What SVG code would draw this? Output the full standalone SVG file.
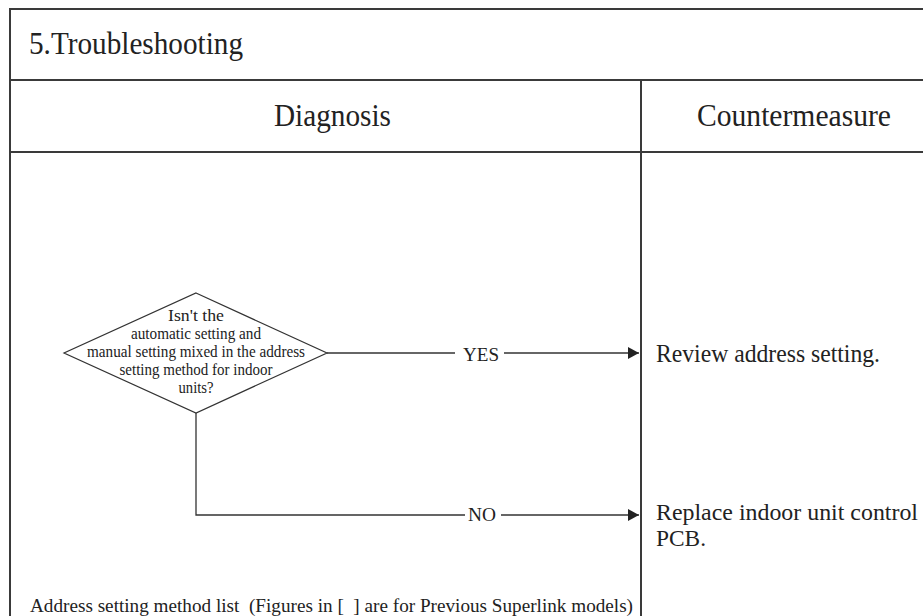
<svg xmlns="http://www.w3.org/2000/svg" width="923" height="616" viewBox="0 0 923 616">
<style>
  .frame { fill: none; stroke: #3a3a3a; stroke-width: 2; }
  .edge { fill: none; stroke: #333; stroke-width: 1.3; }
  .shape { fill: #fff; stroke: #333; stroke-width: 1.2; }
  text { font-family: "Liberation Serif", "Times New Roman", serif; fill: #222; }
  .hdr { font-size: 31px; }
  .dtxt { font-size: 17px; text-anchor: middle; }
  .lbl { font-size: 19px; text-anchor: middle; }
  .act { font-size: 26px; }
  .act2 { font-size: 23px; }
  .foot { font-size: 18px; }
</style>
<defs>
  <marker id="arrow" markerWidth="12" markerHeight="12" refX="11" refY="6" orient="auto" markerUnits="userSpaceOnUse">
    <path d="M0,0 L11,6 L0,12 Z" fill="#222"/>
  </marker>
</defs>
<rect width="923" height="616" fill="#fff"/>
<g id="table">
  <path class="frame" d="M10,616 L10,9 L925,9"/>
  <path class="frame" d="M10,80 L925,80"/>
  <path class="frame" d="M10,152 L925,152"/>
  <path class="frame" d="M641,80 L641,616"/>
  <text class="hdr" x="29" y="54" textLength="214" lengthAdjust="spacingAndGlyphs">5.Troubleshooting</text>
  <text class="hdr" x="274" y="126" textLength="117" lengthAdjust="spacingAndGlyphs">Diagnosis</text>
  <text class="hdr" x="697" y="126" textLength="194" lengthAdjust="spacingAndGlyphs">Countermeasure</text>
</g>
<g id="connectors">
  <path class="edge" d="M327,353 L455,353"/>
  <path class="edge" d="M504,353 L639,353" marker-end="url(#arrow)"/>
  <text class="lbl" x="481" y="361" textLength="36" lengthAdjust="spacingAndGlyphs">YES</text>
  <path class="edge" d="M196,413 L196,515 L465,515"/>
  <path class="edge" d="M501,515 L639,515" marker-end="url(#arrow)"/>
  <text class="lbl" x="482" y="521" textLength="28" lengthAdjust="spacingAndGlyphs">NO</text>
</g>
<g id="decision">
  <polygon class="shape" points="196,293 327,353 196,413 64,353"/>
  <text class="dtxt" x="196" y="321" textLength="56" lengthAdjust="spacingAndGlyphs">Isn't the</text>
  <text class="dtxt" x="196" y="339" textLength="130" lengthAdjust="spacingAndGlyphs">automatic setting and</text>
  <text class="dtxt" x="196" y="357" textLength="218" lengthAdjust="spacingAndGlyphs">manual setting mixed in the address</text>
  <text class="dtxt" x="196" y="375" textLength="153" lengthAdjust="spacingAndGlyphs">setting method for indoor</text>
  <text class="dtxt" x="196" y="393" textLength="35" lengthAdjust="spacingAndGlyphs">units?</text>
</g>
<g id="review">
  <text class="act" x="656" y="362" textLength="224" lengthAdjust="spacingAndGlyphs">Review address setting.</text>
</g>
<g id="replace">
  <text class="act2" x="656" y="520" textLength="262" lengthAdjust="spacingAndGlyphs">Replace indoor unit control</text>
  <text class="act2" x="656" y="546" textLength="50" lengthAdjust="spacingAndGlyphs">PCB.</text>
</g>
<g id="footer">
  <text class="foot" x="30" y="612" xml:space="preserve" textLength="603" lengthAdjust="spacingAndGlyphs">Address setting method list  (Figures in [  ] are for Previous Superlink models)</text>
</g>
</svg>
